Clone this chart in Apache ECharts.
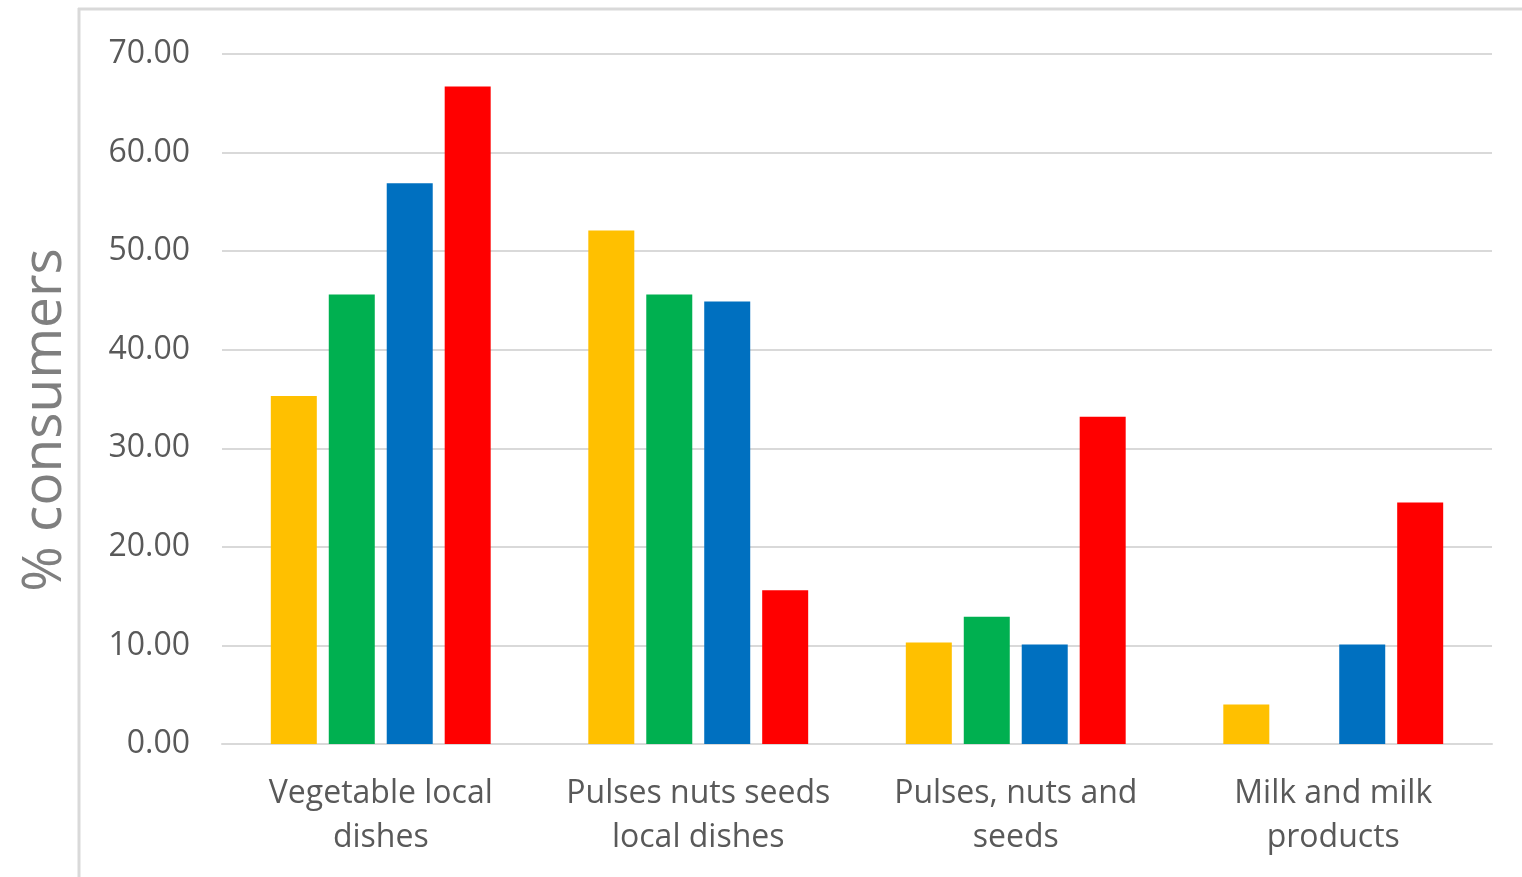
<!DOCTYPE html>
<html>
<head>
<meta charset="utf-8">
<title>% consumers by food group</title>
<script src="https://cdn.jsdelivr.net/npm/echarts@6/dist/echarts.min.js"></script>
<style>
  html, body { margin: 0; padding: 0; background: #ffffff; }
  #chart { width: 1522px; height: 877px; }
</style>
</head>
<body>
<div id="chart"></div>
<script>
// Food groups on the x axis
const categories = [
  'Vegetable local\ndishes',
  'Pulses nuts seeds\nlocal dishes',
  'Pulses, nuts and\nseeds',
  'Milk and milk\nproducts'
];

// Percentage of consumers per group (four series)
const seriesYellow = [35.3, 52.1, 10.3, 4.0];
const seriesGreen  = [45.6, 45.6, 12.9, 0];
const seriesBlue   = [56.9, 44.9, 10.1, 10.1];
const seriesRed    = [66.7, 15.6, 33.2, 24.5];

const seriesNames  = ['Series 1', 'Series 2', 'Series 3', 'Series 4'];
const seriesColors = ['#ffc000', '#00b050', '#0070c0', '#ff0000'];

const yTitle = '% consumers';

const chart = echarts.init(document.getElementById('chart'), null, { renderer: 'canvas' });

const allData = [seriesYellow, seriesGreen, seriesBlue, seriesRed];

chart.setOption({
  animation: false,
  backgroundColor: '#ffffff',
  graphic: [
    // light frame along the top and left edges
    { type: 'line', shape: { x1: 78, y1: 9, x2: 1522, y2: 9 }, style: { stroke: '#d9d9d9', lineWidth: 3 } },
    { type: 'line', shape: { x1: 79, y1: 8, x2: 79, y2: 877 }, style: { stroke: '#d9d9d9', lineWidth: 3 } },
    // vertical axis title
    {
      type: 'text',
      x: 45, y: 420,
      rotation: Math.PI / 2,
      style: {
        text: yTitle,
        fill: '#7f7f7f',
        font: '55px "Open Sans"',
        align: 'center',
        verticalAlign: 'middle'
      }
    }
  ],
  grid: { left: 222, right: 30, top: 54, bottom: 133, containLabel: false, outerBoundsMode: 'none' },
  xAxis: {
    type: 'category',
    data: categories,
    axisLine: { show: true, lineStyle: { color: '#d9d9d9', width: 2 } },
    axisTick: { show: false },
    axisLabel: {
      color: '#595959',
      fontFamily: 'Open Sans',
      fontSize: 32,
      lineHeight: 44,
      margin: 28,
      interval: 0
    }
  },
  yAxis: {
    type: 'value',
    min: 0,
    max: 70,
    interval: 10,
    axisLine: { show: false },
    axisTick: { show: false },
    axisLabel: {
      color: '#595959',
      fontFamily: 'Open Sans',
      fontSize: 32,
      margin: 32,
      padding: [4, 0, 0, 0],
      formatter: v => v.toFixed(2)
    },
    splitLine: { lineStyle: { color: '#d9d9d9', width: 2 } }
  },
  series: allData.map((d, i) => ({
    name: seriesNames[i],
    type: 'bar',
    data: d,
    barWidth: 46,
    barGap: '26%',
    itemStyle: { color: seriesColors[i] }
  }))
});
</script>
</body>
</html>
